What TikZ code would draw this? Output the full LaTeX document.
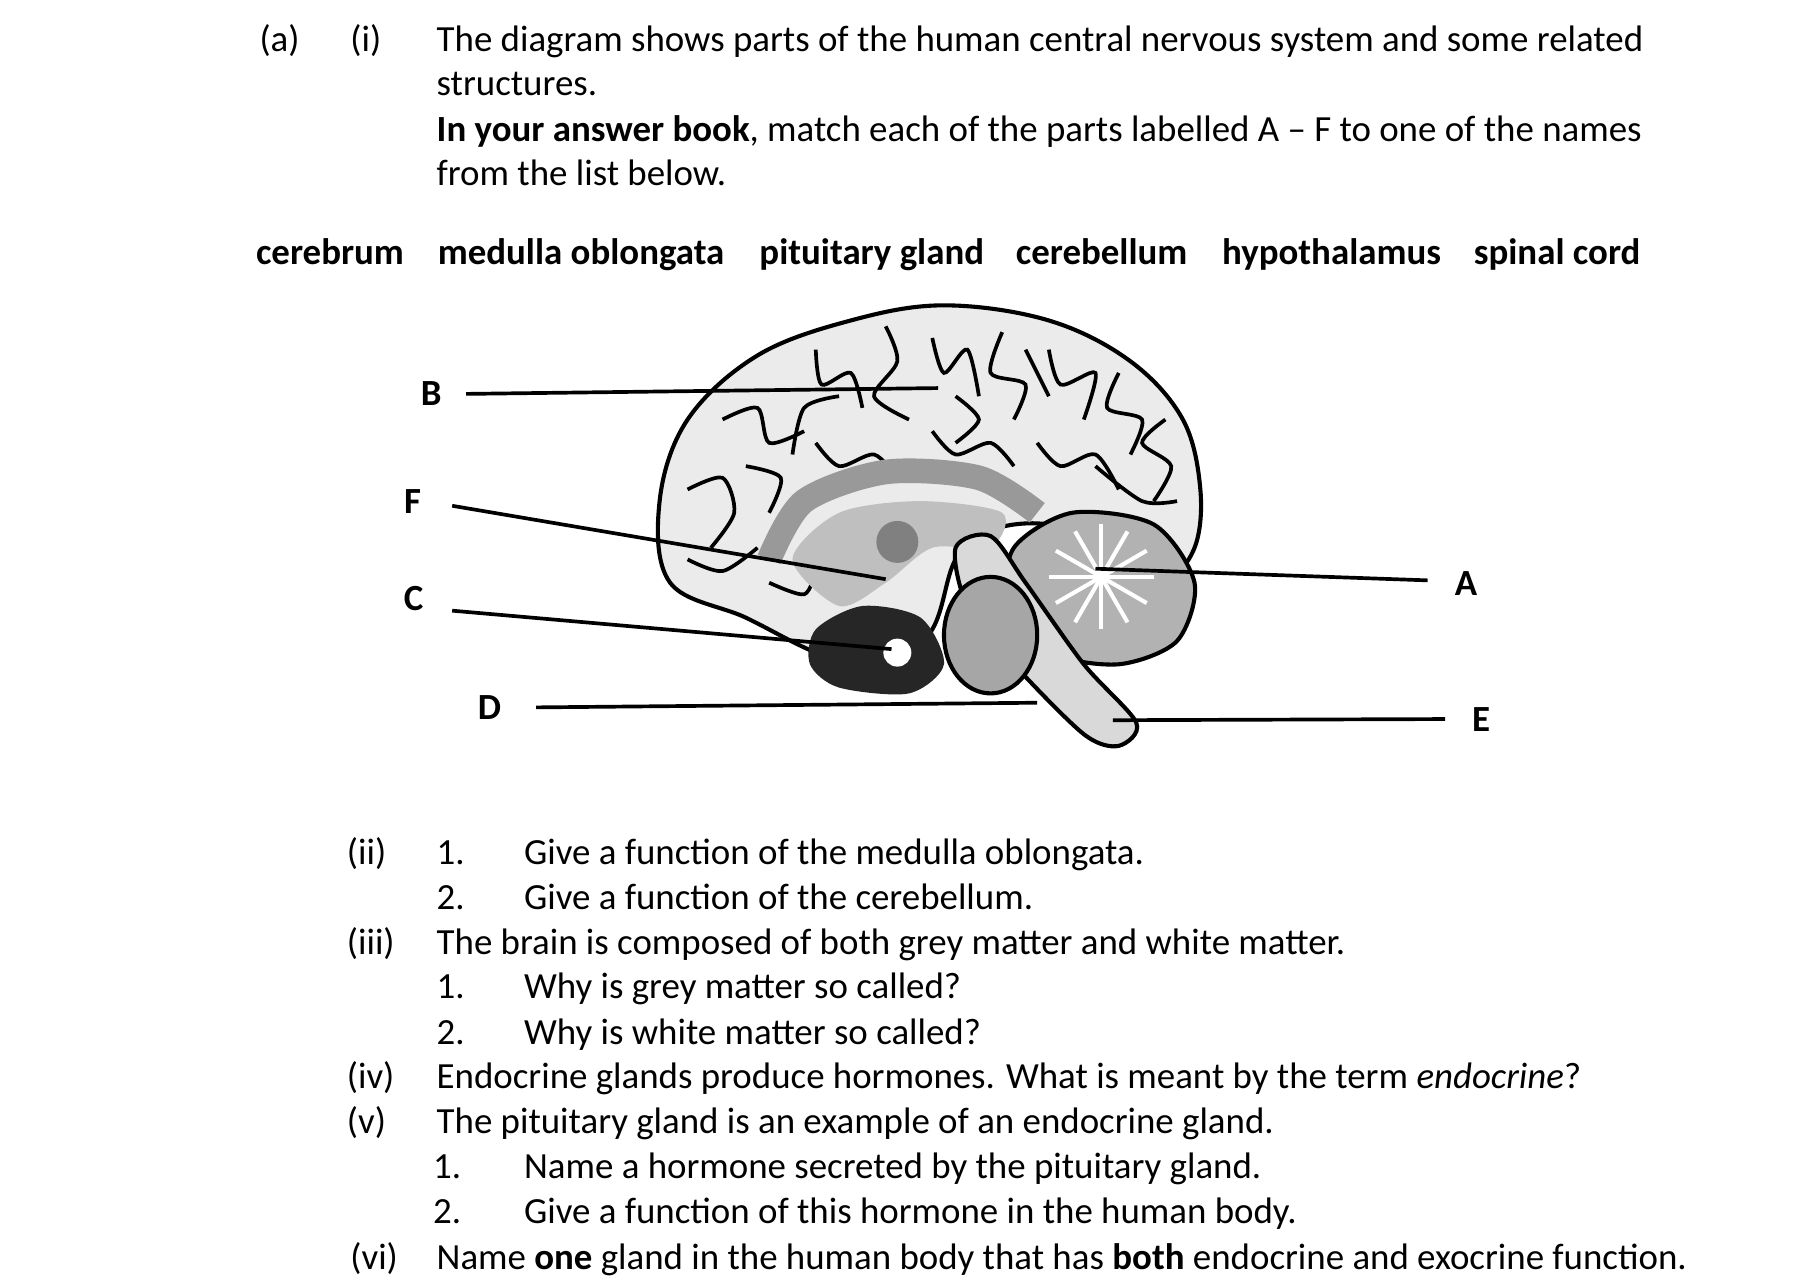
\documentclass[tikz,border=0pt]{standalone}
\usepackage{fontspec}
\setmainfont{Carlito}
\begin{document}
\begin{tikzpicture}[x=0.01cm,y=-0.01cm,
  t/.style={anchor=base west,inner sep=0,font=\fontsize{9}{10}\selectfont},
  nm/.style={t,font=\fontsize{9}{10}\selectfont\bfseries},
  lab/.style={inner sep=0,font=\fontsize{9}{10}\selectfont\bfseries},
  lead/.style={line width=0.9pt},
  gy/.style={line width=0.9pt}]
\useasboundingbox (0,0) rectangle (1560,1103);
% header
\node[t] (a) at (222,44) {(a)};
\node[t] (i) at (300,44) {(i)};
\node[t] (l1) at (374,44) {The diagram shows parts of the human central nervous system and some related};
\node[t] (l2) at (374,82) {structures.};
\node[t] (l3) at (374,121) {\textbf{In your answer book}, match each of the parts labelled A -- F to one of the names};
\node[t] (l4) at (374,159) {from the list below.};
\node[nm] (n1) at (219,227) {cerebrum};
\node[nm] (n2) at (375,227) {medulla oblongata};
\node[nm] (n3) at (651,227) {pituitary gland};
\node[nm] (n4) at (871,227) {cerebellum};
\node[nm] (n5) at (1048,227) {hypothalamus};
\node[nm] (n6) at (1264,227) {spinal cord};
% brain
\draw[line width=1pt,fill=black!8] plot[smooth cycle,tension=0.6] coordinates {(575,500)(566,430)(590,360)(650,305)(730,275)(810,262)(900,275)(970,310)(1015,360)(1030,420)(1025,470)(1000,495)(960,470)(900,450)(850,455)(820,480)(800,540)(760,580)(700,560)(640,530)};
% gyri
\foreach \p in {
 {(620,360)(650,350)(660,380)(690,370)},{(700,300)(705,330)(730,320)(740,350)},
 {(760,280)(770,310)(750,340)(780,360)},{(800,290)(810,320)(830,300)(840,340)},
 {(860,285)(850,320)(880,330)(870,360)},{(900,300)(910,330)(940,320)(930,360)},
 {(960,320)(950,350)(980,360)(970,390)},{(1000,360)(980,380)(1005,400)(990,430)},
 {(590,420)(620,410)(630,440)(610,470)},{(640,400)(670,410)(660,440)},
 {(700,380)(720,400)(750,390)(770,410)},{(800,370)(820,390)(850,380)(870,400)},
 {(890,380)(910,400)(940,390)(960,420)},{(590,480)(620,490)(650,470)},
 {(660,500)(690,510)(700,490)},{(880,300)(900,340)},{(720,340)(690,350)(680,390)},
 {(820,340)(840,360)(820,380)},{(940,400)(980,430)(1010,430)}}
 \draw[gy] plot[smooth] coordinates \p;
% corpus callosum
\draw[line width=6pt,black!40] plot[smooth] coordinates {(660,480)(690,430)(760,405)(840,410)(890,440)};
\fill[black!25] plot[smooth cycle] coordinates {(680,480)(720,440)(790,430)(860,440)(850,470)(800,470)(760,500)(720,520)};
\fill[black!50] (770,465) circle (18);
% dark base
\fill[black!85] plot[smooth cycle] coordinates {(700,540)(740,520)(790,530)(810,570)(780,595)(720,590)(695,570)};
\fill[white] (770,560) circle (12);
% cerebellum
\draw[line width=1pt,fill=black!30] plot[smooth cycle] coordinates {(870,470)(920,440)(990,450)(1025,500)(1010,550)(960,570)(900,560)(865,520)};
\foreach \a in {0,30,...,330} \draw[white,line width=1pt] (945,495) -- ++(\a:45);
% brainstem
\draw[line width=1pt,fill=black!15] plot[smooth cycle] coordinates {(820,470)(850,460)(880,500)(930,570)(975,620)(960,640)(930,630)(870,570)(830,520)};
\draw[line width=1pt,fill=black!35] (850,545) ellipse (40 and 50);
% leaders
\node[lab] (B) at (370,338) {B};  \coordinate (bE) at (805,333);
\node[lab] (F) at (354,430) {F};  \coordinate (fE) at (760,497);
\node[lab] (C) at (355,514) {C};  \coordinate (cE) at (765,557);
\node[lab] (D) at (420,607) {D};  \coordinate (dE) at (890,603);
\node[lab] (A) at (1258,501) {A}; \coordinate (aE) at (940,488);
\node[lab] (E) at (1271,617) {E}; \coordinate (eE) at (955,618);
\draw[lead] (400,338) -- (bE);
\draw[lead] (388,434) -- (fE);
\draw[lead] (388,524) -- (cE);
\draw[lead] (460,607) -- (dE);
\draw[lead] (1225,498) -- (aE);
\draw[lead] (1240,617) -- (eE);
% questions
\node[t] (q2) at (297,742) {(ii)};
\node[t] at (374,742) {1.}; \node[t] at (449,742) {Give a function of the medulla oblongata.};
\node[t] at (374,780) {2.}; \node[t] at (449,780) {Give a function of the cerebellum.};
\node[t] (q3) at (297,819) {(iii)};
\node[t] at (374,819) {The brain is composed of both grey matter and white matter.};
\node[t] at (374,857) {1.}; \node[t] at (449,857) {Why is grey matter so called?};
\node[t] at (374,896) {2.}; \node[t] at (449,896) {Why is white matter so called?};
\node[t] (q4) at (297,934) {(iv)};
\node[t] at (374,934) {Endocrine glands produce hormones. What is meant by the term \emph{endocrine}?};
\node[t] (q5) at (297,973) {(v)};
\node[t] at (374,973) {The pituitary gland is an example of an endocrine gland.};
\node[t] at (371,1011) {1.}; \node[t] at (449,1011) {Name a hormone secreted by the pituitary gland.};
\node[t] at (371,1050) {2.}; \node[t] at (449,1050) {Give a function of this hormone in the human body.};
\node[t] (q6) at (300,1089) {(vi)};
\node[t] at (374,1089) {Name \textbf{one} gland in the human body that has \textbf{both} endocrine and exocrine function.};
\end{tikzpicture}
\end{document}
